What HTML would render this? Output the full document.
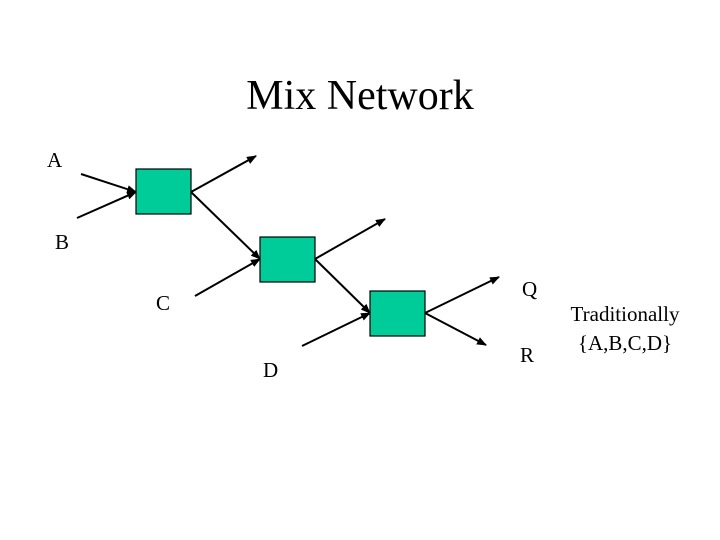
<!DOCTYPE html>
<html><head><style>
body{margin:0;background:#fff}
svg{display:block}
text{font-family:"Liberation Serif",serif;fill:#000}
</style></head><body>
<svg width="720" height="540" viewBox="0 0 720 540" xmlns="http://www.w3.org/2000/svg">
<defs><marker id="a" markerWidth="10" markerHeight="8" refX="9" refY="4" orient="auto" markerUnits="userSpaceOnUse"><path d="M0,0 L10,4 L0,8 Z" fill="#000"/></marker></defs>
<text x="360" y="109" font-size="42" text-anchor="middle">Mix Network</text>
<g fill="#00cc99" stroke="#000" stroke-width="1.2">
<rect x="136" y="169" width="55" height="45"/>
<rect x="260" y="237" width="55" height="45"/>
<rect x="370" y="291" width="55" height="45"/>
</g>
<g stroke="#000" stroke-width="2" marker-end="url(#a)">
<line x1="81" y1="174" x2="136" y2="192"/>
<line x1="77" y1="218" x2="136" y2="192"/>
<line x1="191" y1="192" x2="256" y2="156"/>
<line x1="191" y1="192" x2="260" y2="259"/>
<line x1="195" y1="296" x2="260" y2="259"/>
<line x1="315" y1="259" x2="385" y2="219"/>
<line x1="315" y1="259" x2="370" y2="313"/>
<line x1="302" y1="346" x2="370" y2="313"/>
<line x1="425" y1="313" x2="499" y2="277"/>
<line x1="425" y1="313" x2="486" y2="345"/>
</g>
<g font-size="21">
<text x="47" y="167">A</text>
<text x="55" y="249">B</text>
<text x="156" y="310">C</text>
<text x="263" y="377">D</text>
<text x="522" y="296">Q</text>
<text x="520" y="362">R</text>
<text x="625" y="321" text-anchor="middle">Traditionally</text>
<text x="625" y="350" text-anchor="middle">{A,B,C,D}</text>
</g>
</svg>
</body></html>
